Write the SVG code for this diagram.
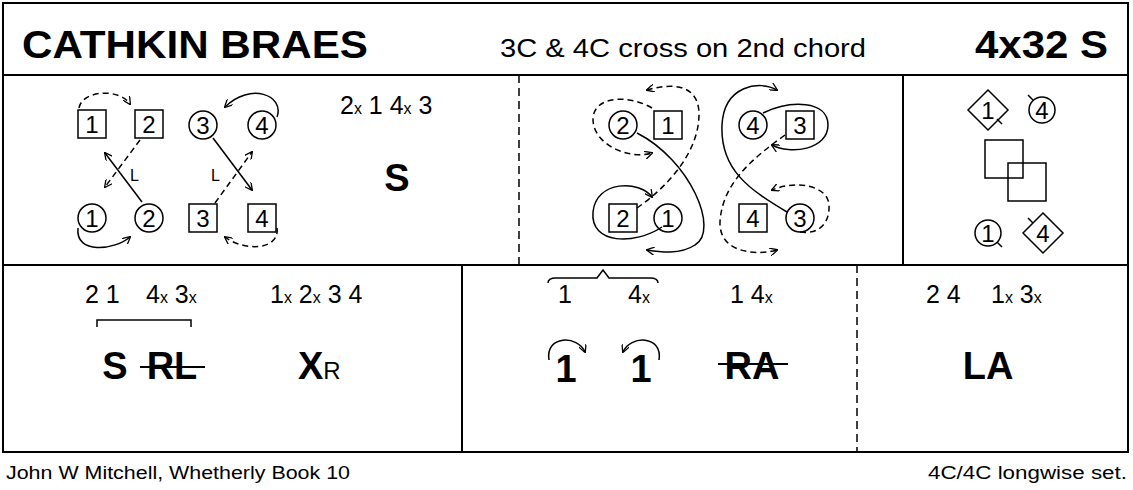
<svg xmlns="http://www.w3.org/2000/svg" width="1133" height="490" viewBox="0 0 1133 490">
<defs>
<marker id="ah" viewBox="0 0 10 10" refX="9" refY="5" markerWidth="8" markerHeight="8" orient="auto" markerUnits="userSpaceOnUse"><path d="M0,0 L10,5 L0,10" fill="none" stroke="#000" stroke-width="1.6"/></marker>
<style>
text{font-family:"Liberation Sans",Arial,sans-serif;fill:#000}
.frame{fill:none;stroke:#000;stroke-width:2}
.sq{fill:#fff;stroke:#000;stroke-width:1.5}
.n{font-size:24px;text-anchor:middle}
.c{fill:none;stroke:#000;stroke-width:1.5;marker-end:url(#ah)}
.d{stroke-dasharray:6,4}
.p{fill:none;stroke:#000;stroke-width:1.5}
.t{font-size:25px}
.s{font-size:16px}
.b{font-size:38px;font-weight:bold}
</style>
</defs>
<rect class="frame" x="3" y="3" width="1125" height="449"/>
<line class="frame" x1="3" y1="75" x2="1128" y2="75"/>
<line class="frame" x1="3" y1="265" x2="1128" y2="265"/>
<line x1="519" y1="75" x2="519" y2="265" stroke="#000" stroke-width="1.5" stroke-dasharray="8,5"/>
<line class="frame" x1="903" y1="75" x2="903" y2="265"/>
<line class="frame" x1="462" y1="265" x2="462" y2="452"/>
<line x1="857" y1="265" x2="857" y2="452" stroke="#000" stroke-width="1.5" stroke-dasharray="8,5"/>
<g id="title">
<text x="22" y="58" font-size="38" font-weight="bold" textLength="346" lengthAdjust="spacingAndGlyphs">CATHKIN BRAES</text>
<text x="500" y="57" font-size="26" textLength="366" lengthAdjust="spacingAndGlyphs">3C &amp; 4C cross on 2nd chord</text>
<text x="975" y="58" font-size="38" font-weight="bold" textLength="133" lengthAdjust="spacingAndGlyphs">4x32 S</text>
</g>
<g id="footer">
<text x="6" y="479" font-size="18" textLength="344" lengthAdjust="spacingAndGlyphs">John W Mitchell, Whetherly Book 10</text>
<text x="928" y="479" font-size="18" textLength="199" lengthAdjust="spacingAndGlyphs">4C/4C longwise set.</text>
</g>
<g id="panel1">
<rect class="sq" x="78" y="110" width="28" height="28"/><text class="n" x="92" y="133">1</text>
<rect class="sq" x="135" y="110" width="28" height="28"/><text class="n" x="149" y="133">2</text>
<circle class="sq" cx="203" cy="125" r="14"/><text class="n" x="203" y="134">3</text>
<circle class="sq" cx="262" cy="125" r="14"/><text class="n" x="262" y="134">4</text>
<circle class="sq" cx="92" cy="218" r="14"/><text class="n" x="92" y="227">1</text>
<circle class="sq" cx="149" cy="218" r="14"/><text class="n" x="149" y="227">2</text>
<rect class="sq" x="189" y="204" width="28" height="28"/><text class="n" x="203" y="227">3</text>
<rect class="sq" x="248" y="204" width="28" height="28"/><text class="n" x="262" y="227">4</text>
<text x="130" y="181" font-size="16">L</text>
<text x="211" y="181" font-size="16">L</text>
<text x="340" y="114" class="t">2<tspan class="s">x</tspan> 1 4<tspan class="s">x</tspan> 3</text>
<text x="397" y="191" class="b" text-anchor="middle">S</text>
</g>
<g id="panel2">
<circle class="sq" cx="623" cy="125" r="14"/><text class="n" x="623" y="134">2</text>
<rect class="sq" x="654" y="111" width="28" height="28"/><text class="n" x="668" y="134">1</text>
<circle class="sq" cx="753" cy="125" r="14"/><text class="n" x="753" y="134">4</text>
<rect class="sq" x="786" y="111" width="28" height="28"/><text class="n" x="800" y="134">3</text>
<rect class="sq" x="609" y="204" width="28" height="28"/><text class="n" x="623" y="227">2</text>
<circle class="sq" cx="668" cy="218" r="14"/><text class="n" x="668" y="227">1</text>
<rect class="sq" x="739" y="204" width="28" height="28"/><text class="n" x="753" y="227">4</text>
<circle class="sq" cx="800" cy="218" r="14"/><text class="n" x="800" y="227">3</text>
</g>
<g id="panel3">
<rect class="sq" x="985" y="140" width="38" height="38"/>
<rect class="p" x="1008" y="163" width="38" height="38"/>
<polygon class="sq" points="988,90 1008,110 988,130 968,110"/><text class="n" x="988" y="119">1</text>
<line class="p" x1="997" y1="119" x2="1002" y2="124"/>
<circle class="sq" cx="1042" cy="110" r="13"/><text class="n" x="1042" y="119">4</text>
<line class="p" x1="1028" y1="95" x2="1033" y2="100"/>
<circle class="sq" cx="988" cy="233" r="13"/><text class="n" x="988" y="242">1</text>
<line class="p" x1="997" y1="242" x2="1002" y2="247"/>
<polygon class="sq" points="1043,213 1063,233 1043,253 1023,233"/><text class="n" x="1043" y="242">4</text>
<line class="p" x1="1028" y1="218" x2="1033" y2="223"/>
</g>
<g id="panel4">
<text x="85" y="303" class="t">2 1</text>
<text x="146" y="303" class="t">4<tspan class="s">x</tspan> 3<tspan class="s">x</tspan></text>
<text x="270" y="303" class="t">1<tspan class="s">x</tspan> 2<tspan class="s">x</tspan> 3 4</text>
<path class="p" d="M97,327 V320 H191 V327"/>
<text x="115" y="379" class="b" text-anchor="middle">S</text>
<text x="172" y="379" class="b" text-anchor="middle">RL</text>
<line x1="140" y1="367" x2="205" y2="367" stroke="#000" stroke-width="2"/>
<text x="298" y="379" class="b">X<tspan font-size="24" font-weight="normal">R</tspan></text>
</g>
<g id="panel5">
<path class="p" d="M548,283 Q548,278 556,278 H597 L603,270 L609,278 H650 Q658,278 658,283"/>
<text x="558" y="303" class="t">1</text>
<text x="628" y="303" class="t">4<tspan class="s">x</tspan></text>
<text x="730" y="303" class="t">1 4<tspan class="s">x</tspan></text>
<text x="566" y="382" class="b" text-anchor="middle" font-size="30">1</text>
<text x="641" y="382" class="b" text-anchor="middle" font-size="30">1</text>
<text x="752" y="379" class="b" text-anchor="middle">RA</text>
<line x1="718" y1="364" x2="788" y2="364" stroke="#000" stroke-width="2"/>
</g>
<g id="panel6">
<text x="926" y="303" class="t">2 4</text>
<text x="991" y="303" class="t">1<tspan class="s">x</tspan> 3<tspan class="s">x</tspan></text>
<text x="988" y="379" class="b" text-anchor="middle">LA</text>
</g>
<g id="connectors">
<path class="c d" d="M79,108 C82,90 120,88 130,104"/>
<path class="c d" d="M140,140 L105,187"/>
<path class="c" d="M142,202 L105,153"/>
<path class="c" d="M213,138 L252,190"/>
<path class="c d" d="M215,203 L252,152"/>
<path class="c" d="M277,117 C285,95 250,82 225,107"/>
<path class="c" d="M78,228 C75,255 115,250 130,237"/>
<path class="c d" d="M277,228 C280,250 245,252 225,237"/>
<path class="c" d="M637,133 C690,160 720,230 695,245 C680,255 660,252 647,250"/>
<path class="c" d="M662,227 C635,245 590,245 593,212 C596,180 640,180 652,197"/>
<path class="c d" d="M637,208 C670,185 700,150 699,112 C697,80 665,85 647,90"/>
<path class="c d" d="M652,108 C630,95 595,95 593,118 C592,145 630,160 652,153"/>
<path class="c" d="M787,212 C750,190 720,170 722,125 C724,85 760,80 777,90"/>
<path class="c" d="M763,113 C790,100 828,100 828,125 C828,150 790,155 772,145"/>
<path class="c d" d="M785,135 C750,160 722,185 720,222 C719,255 760,255 777,250"/>
<path class="c d" d="M800,232 C820,235 830,222 829,205 C828,185 795,180 772,190"/>
<path class="c" d="M549,360 C545,335 578,335 585,352"/>
<path class="c" d="M659,360 C663,335 630,335 623,352"/>
</g>
</svg>
